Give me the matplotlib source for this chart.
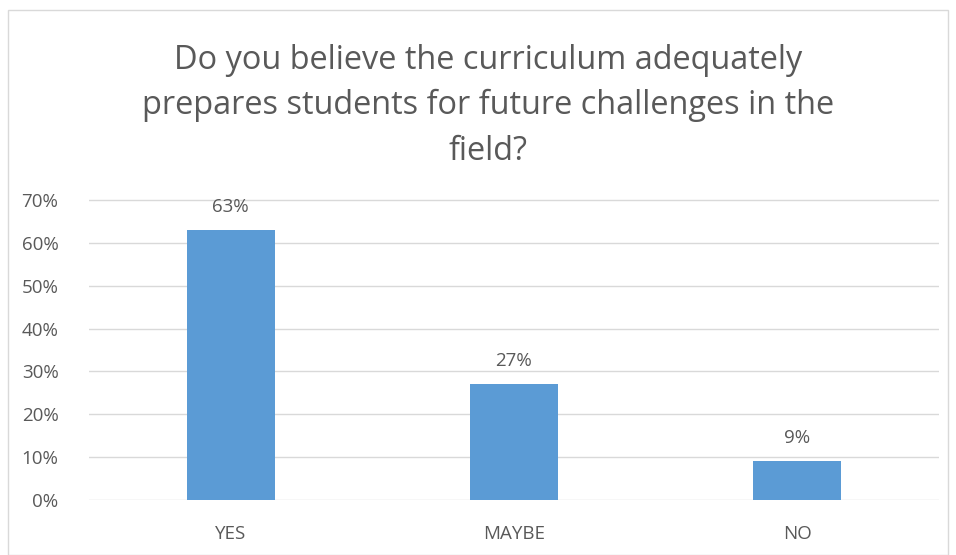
import matplotlib.pyplot as plt
from matplotlib.patches import Rectangle

# data
categories = ['YES', 'MAYBE', 'NO']
values = [63, 27, 9]
yticks = [0, 10, 20, 30, 40, 50, 60, 70]
title = 'Do you believe the curriculum adequately\nprepares students for future challenges in the\nfield?'

plt.rcParams['font.family'] = ['Open Sans', 'DejaVu Sans']
txt = '#595959'

fig = plt.figure(figsize=(9.56, 5.55), dpi=100)
# chart border
fig.patches.append(Rectangle((8/956, 0), 1 - 16/956, 1 - 10/555, transform=fig.transFigure,
                             fill=False, edgecolor='#D9D9D9', linewidth=1))

ax = fig.add_axes([89/956, 55/555, 850/956, 312/555])
x = range(len(categories))
ax.bar(x, values, width=0.31, color='#5B9BD5', zorder=3)
for i, v in zip(x, values):
    ax.text(i, v + 3.3, f'{v}%', ha='center', va='bottom', fontsize=13.5, color=txt)

ax.set_xlim(-0.5, 2.5)
ax.set_ylim(0, 72.8)
ax.set_yticks(yticks)
ax.set_yticklabels([f'{t}%' for t in yticks])
ax.set_xticks(list(x))
ax.set_xticklabels(categories)
ax.tick_params(length=0, labelsize=13.5, colors=txt)
ax.tick_params(axis='x', pad=18)
ax.tick_params(axis='y', pad=22)
ax.grid(axis='y', color='#D9D9D9', linewidth=1, zorder=0)
for s in ax.spines.values():
    s.set_visible(False)

fig.text(488/956, 1 - 160/555, title, ha='center', va='baseline', fontsize=23.4,
         color=txt, linespacing=1.5, multialignment='center')

fig.savefig('out.png', dpi=100)
